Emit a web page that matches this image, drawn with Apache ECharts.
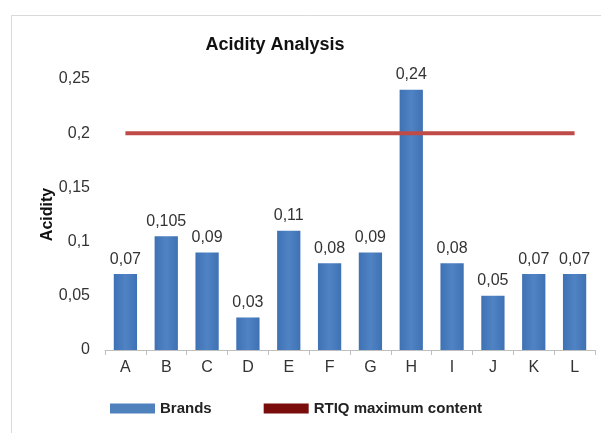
<!DOCTYPE html>
<html>
<head>
<meta charset="utf-8">
<script src="https://cdn.jsdelivr.net/npm/echarts@6/dist/echarts.min.js"></script>
<style>
  html, body { margin: 0; padding: 0; background: #fff; }
  #chart { width: 601px; height: 433px; }
</style>
</head>
<body>
<div id="chart"></div>
<script>
const brands = ['A', 'B', 'C', 'D', 'E', 'F', 'G', 'H', 'I', 'J', 'K', 'L']
const acidity = [0.07, 0.105, 0.09, 0.03, 0.11, 0.08, 0.09, 0.24, 0.08, 0.05, 0.07, 0.07]
const maxContent = [0.2, 0.2, 0.2, 0.2, 0.2, 0.2, 0.2, 0.2, 0.2, 0.2, 0.2, 0.2]

const font = '"Liberation Sans Narrow", "Liberation Sans", Arial, sans-serif'
const comma = v => String(v).replace('.', ',')

const chart = echarts.init(document.getElementById('chart'))

chart.setOption({
  animation: false,
  textStyle: { fontFamily: font },
  graphic: [{
    type: 'rect',
    shape: { x: 11.5, y: 15.5, width: 620, height: 440 },
    style: { fill: 'none', stroke: '#d9d9d9', lineWidth: 1 },
    silent: true
  }],
  title: {
    text: 'Acidity Analysis',
    left: 270,
    textAlign: 'center',
    top: 31,
    textStyle: { fontFamily: font, fontSize: 18, fontWeight: 'bold', color: '#111' }
  },
  grid: { left: 105, right: 6, top: 79, bottom: 83 },
  legend: {
    left: 105,
    top: 396,
    itemWidth: 45,
    itemHeight: 10,
    itemGap: 52,
    textStyle: { fontFamily: font, fontSize: 15, fontWeight: 'bold', color: '#222' },
    data: [
      { name: 'Brands', icon: 'rect', itemStyle: { color: '#4f81bd' } },
      { name: 'RTIQ maximum content', icon: 'rect', itemStyle: { color: '#7b0c0c' } }
    ]
  },
  xAxis: {
    type: 'category',
    data: brands,
    axisLine: { lineStyle: { color: '#bfbfbf' } },
    axisTick: { show: true, alignWithLabel: false, lineStyle: { color: '#bfbfbf' } },
    axisLabel: { color: '#333', fontSize: 16, margin: 10, fontFamily: font }
  },
  yAxis: {
    type: 'value',
    min: 0,
    max: 0.25,
    interval: 0.05,
    name: 'Acidity',
    nameLocation: 'middle',
    nameGap: 49,
    nameMoveOverlap: false,
    nameTextStyle: { fontFamily: font, fontSize: 16, fontWeight: 'bold', color: '#111' },
    axisLine: { show: false },
    axisTick: { show: false },
    splitLine: { show: false },
    axisLabel: {
      color: '#333',
      fontSize: 16,
      margin: 15,
      fontFamily: font,
      formatter: v => comma(+v.toFixed(2))
    }
  },
  series: [
    {
      name: 'Brands',
      type: 'bar',
      data: acidity,
      barWidth: '57%',
      itemStyle: {
        color: new echarts.graphic.LinearGradient(0, 0, 1, 0, [
          { offset: 0, color: '#3f72b4' },
          { offset: 0.5, color: '#4f83c4' },
          { offset: 1, color: '#3f72b4' }
        ])
      },
      label: {
        show: true,
        position: 'top',
        distance: 7,
        color: '#333',
        fontSize: 16,
        fontFamily: font,
        formatter: p => comma(p.value)
      }
    },
    {
      name: 'RTIQ maximum content',
      type: 'line',
      data: maxContent,
      symbol: 'none',
      lineStyle: { color: '#be4b48', width: 4 },
      itemStyle: { color: '#7b0c0c' },
      z: 3
    }
  ]
})
</script>
</body>
</html>
